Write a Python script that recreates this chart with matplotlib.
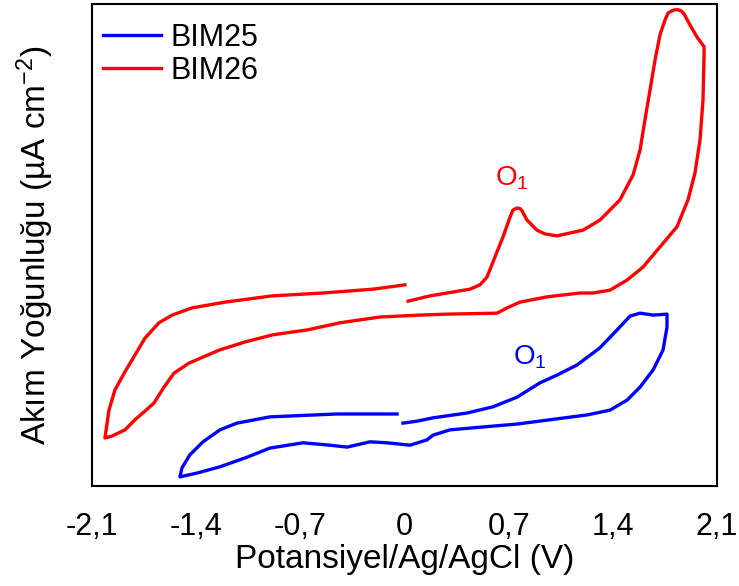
import matplotlib
matplotlib.use('Agg')
import matplotlib.pyplot as plt

plt.rcParams['font.family'] = ['Liberation Sans', 'DejaVu Sans']
plt.rcParams['mathtext.default'] = 'regular'

# BIM26 (red) - potential (V), current density (arb.)
bim26_v = [0.024, 0.171, 0.286, 0.440, 0.507, 0.554, 0.608, 0.662, 0.709, 0.729,
           0.756, 0.776, 0.790, 0.823, 0.890, 0.944, 1.025, 1.112, 1.200, 1.314,
           1.448, 1.536, 1.583, 1.616, 1.650, 1.684, 1.717, 1.751, 1.771, 1.798,
           1.818, 1.838, 1.858, 1.879, 1.919, 1.966, 2.013, 2.013, 2.006, 1.986,
           1.952, 1.905, 1.831, 1.717, 1.603, 1.496, 1.381, 1.267, 1.179, 0.958,
           0.776, 0.689, 0.622, 0.286, 0.104, -0.165, -0.433, -0.655, -0.884, -1.072,
           -1.246, -1.448, -1.549, -1.616, -1.683, -1.744, -1.811, -1.878, -1.966, -2.013,
           -1.986, -1.946, -1.878, -1.811, -1.744, -1.650, -1.562, -1.428, -1.206, -0.890,
           -0.548, -0.212, 0.003]
bim26_j = [38.5, 39.6, 40.2, 41.0, 41.9, 43.5, 47.7, 51.9, 56.0, 57.5,
           57.9, 57.8, 57.3, 55.4, 53.3, 52.5, 52.1, 52.7, 53.3, 55.4,
           59.6, 64.8, 70.0, 76.3, 82.5, 88.8, 94.0, 97.1, 98.5, 99.0,
           99.2, 99.2, 99.0, 98.3, 96.0, 93.5, 91.5, 89.8, 80.4, 72.1,
           65.2, 59.6, 54.0, 49.8, 45.6, 42.9, 40.8, 40.2, 40.2, 39.4,
           38.3, 37.1, 36.0, 35.8, 35.6, 35.2, 34.0, 32.5, 31.5, 30.0,
           28.3, 25.6, 23.5, 20.6, 17.3, 15.6, 13.8, 11.7, 10.4, 10.0,
           15.8, 20.0, 23.8, 27.3, 30.8, 34.0, 35.6, 37.1, 38.3, 39.6,
           40.2, 41.0, 41.9]

# BIM25 (blue)
bim25_v = [-0.010, 0.084, 0.192, 0.420, 0.595, 0.756, 0.911, 1.025, 1.159, 1.314,
           1.428, 1.516, 1.583, 1.671, 1.764, 1.764, 1.737, 1.671, 1.583, 1.496,
           1.381, 1.226, 0.978, 0.756, 0.528, 0.306, 0.192, 0.151, 0.037, -0.118,
           -0.232, -0.386, -0.501, -0.682, -0.904, -1.058, -1.240, -1.394, -1.509, -1.495,
           -1.442, -1.354, -1.240, -1.126, -0.904, -0.454, -0.050]
bim25_j = [13.1, 13.5, 14.2, 15.2, 16.5, 18.5, 21.5, 23.1, 25.2, 28.8,
           32.5, 35.4, 36.0, 35.6, 35.8, 33.1, 28.3, 24.2, 20.6, 17.9,
           15.8, 14.8, 13.8, 12.9, 12.3, 11.7, 10.6, 9.6, 8.5, 9.0,
           9.2, 8.1, 8.5, 9.0, 7.9, 6.0, 4.0, 2.7, 1.9, 3.8,
           6.5, 9.2, 11.7, 13.1, 14.4, 15.0, 15.0]

xticks = [-2.1, -1.4, -0.7, 0, 0.7, 1.4, 2.1]
xticklabels = ['-2,1', '-1,4', '-0,7', '0', '0,7', '1,4', '2,1']

fig = plt.figure(figsize=(7.39, 5.86), dpi=100)
ax = fig.add_axes([92/739, 100/586, 625/739, 482/586])

ax.plot(bim25_v, bim25_j, color='#0000ff', lw=2.4, solid_joinstyle='round', label='BIM25')
ax.plot(bim26_v, bim26_j, color='#ff0000', lw=2.4, solid_joinstyle='round', label='BIM26')

ax.text(0.608, 64.2, 'O$_1$', color='#ff0000', fontsize=20, ha='left', va='center')
ax.text(0.729, 26.9, 'O$_1$', color='#0000ff', fontsize=20, ha='left', va='center')

ax.set_xlim(-2.1, 2.1)
ax.set_ylim(0, 100.4)
ax.set_xticks(xticks)
ax.set_xticklabels(xticklabels)
ax.set_yticks([])
ax.tick_params(axis='x', length=0, pad=19, labelsize=22)
for s in ax.spines.values():
    s.set_linewidth(1.5)

ax.set_xlabel('Potansiyel/Ag/AgCl (V)', fontsize=24, labelpad=1)
ax.set_ylabel('Akım Yoğunluğu (µA cm$^{-2}$)', fontsize=24, labelpad=26)

ax.legend(loc='upper left', frameon=False, fontsize=22, handlelength=1.9,
          handletextpad=0.3, labelspacing=0.1, borderaxespad=0, borderpad=0.2,
          bbox_to_anchor=(0.008, 0.973))

plt.savefig('out.png', dpi=100)
plt.close()
